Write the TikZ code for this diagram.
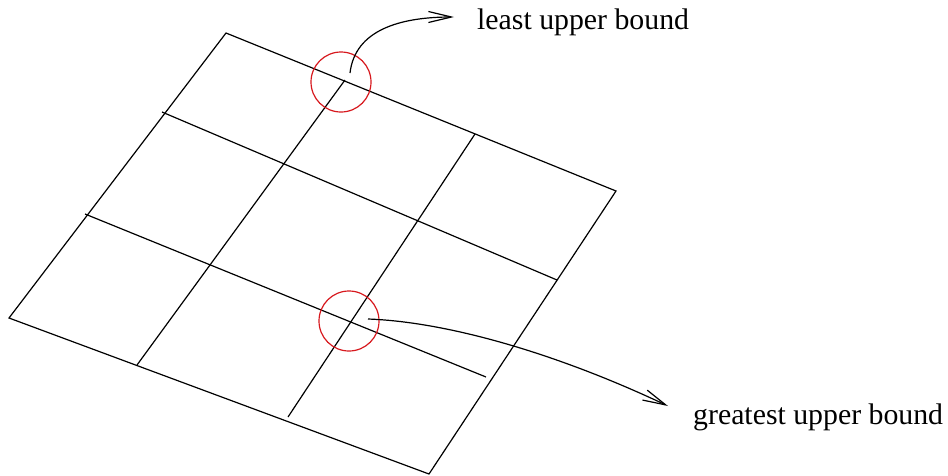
\documentclass[tikz,border=0pt]{standalone}
\usepackage{fontspec}
\setmainfont{Liberation Serif}
\usetikzlibrary{arrows.meta}
\definecolor{circred}{RGB}{215,25,30}
\begin{document}
\begin{tikzpicture}[x=1pt,y=-1pt,
  gridline/.style={line width=1.2pt,black},
  ring/.style={circle,draw=circred,line width=1.2pt,minimum size=60pt,inner sep=0pt},
  pointer/.style={line width=1.2pt,-{Straight Barb[length=23pt,width=11pt,line width=1.2pt]}},
  lbl/.style={font=\fontsize{29.8}{32}\selectfont,inner sep=0pt}]
\useasboundingbox (0,0) rectangle (948,475);
% corners
\coordinate (T) at (226,33);
\coordinate (R) at (616,191);
\coordinate (B) at (429,474);
\coordinate (L) at (9,318);
% interior line ends
\coordinate (r1a) at (162,112);
\coordinate (r1b) at (557,280);
\coordinate (r2a) at (85,214);
\coordinate (r2b) at (486,377);
\coordinate (c1a) at (345,80);
\coordinate (c1b) at (137,365);
\coordinate (c2a) at (475,134);
\coordinate (c2b) at (288,417);
\draw[gridline,line join=miter] (T) -- (R) -- (B) -- (L) -- cycle;
\draw[gridline] (r1a) -- (r1b);
\draw[gridline] (r2a) -- (r2b);
\draw[gridline] (c1a) -- (c1b);
\draw[gridline] (c2a) -- (c2b);
% circles
\node[ring] (lub) at (341,82) {};
\node[ring] (glb) at (349,321) {};
% labels
\node[lbl,anchor=base west] (lubt) at (477,29) {least upper bound};
\node[lbl,anchor=base west] (glbt) at (693,424) {greatest upper bound};
% arrows
\coordinate (a1s) at (350,73);
\coordinate (a1e) at (454,17);
\coordinate (a2s) at (368,319);
\coordinate (a2e) at (668,406);
\draw[pointer] (a1s) .. controls (355,30) and (400,17) .. (a1e);
\draw[pointer] (a2s) .. controls (450,322) and (560,355) .. (a2e);
\end{tikzpicture}
\end{document}
